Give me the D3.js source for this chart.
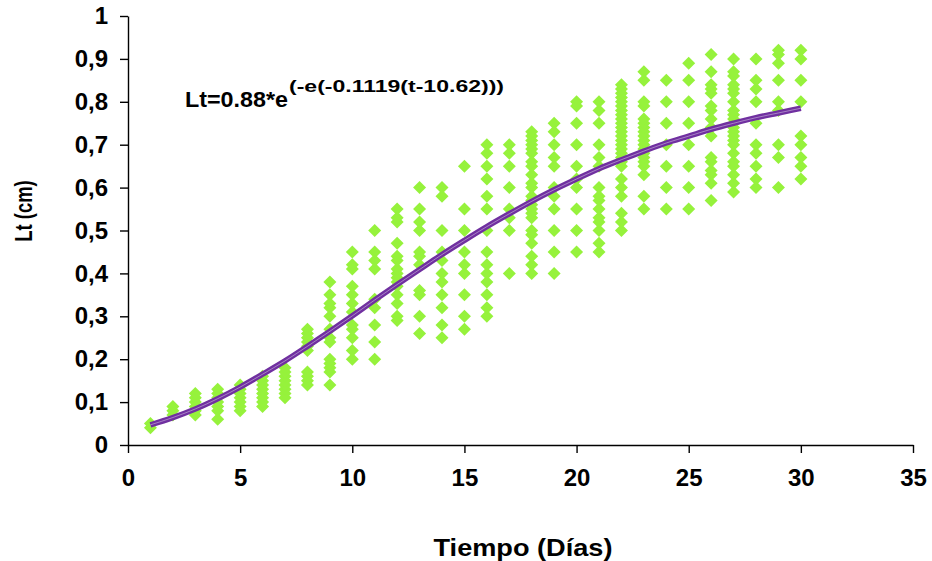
<!DOCTYPE html>
<html>
<head>
<meta charset="utf-8">
<script src="https://cdn.jsdelivr.net/npm/d3@7"></script>
<style>
  body { margin: 0; background: #fff; }
  svg { display: block; font-family: "Liberation Sans", Arial, sans-serif; }
</style>
</head>
<body>
<script>
// observed lengths (cm) by day
var days = [1,2,3,4,5,6,7,8,9,10,11,12,13,14,15,16,17,18,19,20,21,22,23,24,25,26,27,28,29,30];
var lengths = [
  [0.04,0.05],
  [0.07,0.08,0.09],
  [0.07,0.08,0.09,0.10,0.11,0.12],
  [0.06,0.08,0.09,0.10,0.11,0.12,0.13],
  [0.08,0.09,0.10,0.11,0.12,0.13,0.14],
  [0.09,0.10,0.11,0.12,0.13,0.14,0.15,0.16],
  [0.11,0.12,0.13,0.14,0.15,0.16,0.17,0.18],
  [0.14,0.15,0.16,0.17,0.22,0.23,0.24,0.25,0.26,0.27],
  [0.14,0.17,0.18,0.19,0.20,0.24,0.25,0.27,0.30,0.32,0.33,0.35,0.38],
  [0.20,0.22,0.25,0.27,0.28,0.31,0.33,0.35,0.37,0.41,0.42,0.45],
  [0.20,0.24,0.28,0.32,0.34,0.41,0.43,0.45,0.50],
  [0.29,0.30,0.33,0.35,0.37,0.38,0.39,0.40,0.41,0.43,0.44,0.47,0.52,0.53,0.55],
  [0.26,0.30,0.35,0.36,0.42,0.44,0.45,0.50,0.52,0.55,0.60],
  [0.25,0.28,0.32,0.35,0.38,0.40,0.43,0.45,0.50,0.58,0.60],
  [0.27,0.30,0.35,0.40,0.42,0.45,0.50,0.55,0.65],
  [0.30,0.32,0.35,0.38,0.40,0.42,0.45,0.50,0.55,0.58,0.62,0.65,0.68,0.70],
  [0.40,0.50,0.53,0.55,0.60,0.65,0.68,0.70],
  [0.40,0.42,0.44,0.47,0.49,0.50,0.53,0.54,0.55,0.56,0.57,0.58,0.60,0.61,0.63,0.65,0.66,0.68,0.69,0.70,0.71,0.72,0.73],
  [0.40,0.45,0.50,0.55,0.58,0.60,0.65,0.67,0.70,0.73,0.75],
  [0.45,0.50,0.55,0.60,0.62,0.65,0.70,0.75,0.79,0.80],
  [0.45,0.47,0.50,0.52,0.53,0.55,0.57,0.58,0.60,0.65,0.67,0.70,0.75,0.78,0.80],
  [0.50,0.52,0.54,0.58,0.60,0.62,0.65,0.66,0.67,0.68,0.69,0.70,0.71,0.72,0.73,0.74,0.75,0.76,0.77,0.78,0.79,0.80,0.81,0.82,0.83,0.84],
  [0.55,0.58,0.63,0.65,0.66,0.67,0.68,0.69,0.70,0.71,0.72,0.73,0.74,0.75,0.76,0.79,0.80,0.85,0.87],
  [0.55,0.60,0.65,0.70,0.75,0.80,0.85],
  [0.55,0.60,0.65,0.70,0.75,0.80,0.85,0.89],
  [0.57,0.61,0.63,0.64,0.66,0.67,0.72,0.74,0.76,0.78,0.79,0.82,0.83,0.84,0.87,0.91],
  [0.59,0.61,0.63,0.65,0.66,0.68,0.70,0.71,0.72,0.73,0.74,0.75,0.76,0.77,0.78,0.80,0.82,0.83,0.84,0.86,0.87,0.90],
  [0.60,0.62,0.65,0.68,0.70,0.75,0.80,0.83,0.85,0.90],
  [0.60,0.67,0.70,0.78,0.80,0.85,0.89,0.91,0.92],
  [0.62,0.65,0.67,0.70,0.72,0.80,0.85,0.90,0.92]
];
// fitted Gompertz curve as drawn (value per day)
var fitted = [0.047,0.064,0.084,0.108,0.135,0.165,0.196,0.230,0.265,0.301,0.338,0.374,0.409,0.444,0.477,0.509,0.539,0.568,0.595,0.620,0.644,0.665,0.685,0.704,0.720,0.736,0.750,0.763,0.774,0.785];
var xTicks = [0,5,10,15,20,25,30,35];
var yTicks = [0,0.1,0.2,0.3,0.4,0.5,0.6,0.7,0.8,0.9,1];

var width = 932, height = 561;
var margin = {top: 16, right: 19, bottom: 116, left: 128};

var svg = d3.select("body").append("svg")
    .attr("width", width)
    .attr("height", height);

var x = d3.scaleLinear().domain([0, 35]).range([margin.left, width - margin.right]);
var y = d3.scaleLinear().domain([0, 1]).range([height - margin.bottom, margin.top]);

var fmt = function(d) { return d === 0 || d === 1 ? String(d) : String(d).replace(".", ","); };

// axes
var xAxis = svg.append("g")
    .attr("transform", "translate(0," + y(0) + ")")
    .call(d3.axisBottom(x).tickValues(xTicks).tickSize(8).tickPadding(16).tickSizeOuter(0));
var yAxis = svg.append("g")
    .attr("transform", "translate(" + x(0) + ",0)")
    .call(d3.axisLeft(y).tickValues(yTicks).tickFormat(fmt).tickSize(8).tickPadding(12).tickSizeOuter(0));

[xAxis, yAxis].forEach(function(a) {
  a.select(".domain").attr("stroke", "#000").attr("stroke-width", 1.4);
  a.selectAll(".tick line").attr("stroke", "#000").attr("stroke-width", 1.4);
  a.selectAll("text")
    .attr("fill", "#000")
    .style("font-size", "24px")
    .style("font-weight", "bold")
    .style("font-family", "'Liberation Sans', Arial, sans-serif");
});

// points
var pts = [];
days.forEach(function(d, i) {
  lengths[i].forEach(function(v) { pts.push({t: d, v: v}); });
});

var r = 6.5;
svg.append("g").selectAll("path")
    .data(pts)
  .enter().append("path")
    .attr("d", "M0," + (-r) + "L" + r + ",0L0," + r + "L" + (-r) + ",0Z")
    .attr("transform", function(d) { return "translate(" + x(d.t) + "," + y(d.v) + ")"; })
    .attr("fill", "#96f23c");

// fitted line
var line = d3.line()
    .x(function(d, i) { return x(days[i]); })
    .y(function(d) { return y(d); })
    .curve(d3.curveMonotoneX);

svg.append("path")
    .datum(fitted)
    .attr("d", line)
    .attr("fill", "none")
    .attr("stroke", "#7030a0")
    .attr("stroke-width", 5.5);

svg.append("path")
    .datum(fitted)
    .attr("d", line)
    .attr("fill", "none")
    .attr("stroke", "#e6dcf0")
    .attr("stroke-width", 0.8)
    .attr("opacity", 0.6);

// equation
svg.append("text")
    .attr("x", 185)
    .attr("y", 107)
    .attr("textLength", 103)
    .attr("lengthAdjust", "spacingAndGlyphs")
    .style("font-size", "22px")
    .style("font-weight", "bold")
    .text("Lt=0.88*e");
svg.append("text")
    .attr("x", 289)
    .attr("y", 92)
    .attr("textLength", 215)
    .attr("lengthAdjust", "spacingAndGlyphs")
    .style("font-size", "16.5px")
    .style("font-weight", "600")
    .text("(-e(-0.1119(t-10.62)))");

// axis titles
svg.append("text")
    .attr("x", 523)
    .attr("y", 556)
    .attr("text-anchor", "middle")
    .attr("textLength", 179)
    .attr("lengthAdjust", "spacingAndGlyphs")
    .style("font-size", "24px")
    .style("font-weight", "bold")
    .text("Tiempo (Días)");

svg.append("text")
    .attr("transform", "translate(32,211) rotate(-90) scale(0.8,1)")
    .attr("text-anchor", "middle")
    .style("font-size", "23px")
    .style("font-weight", "bold")
    .text("Lt (cm)");
</script>
</body>
</html>
